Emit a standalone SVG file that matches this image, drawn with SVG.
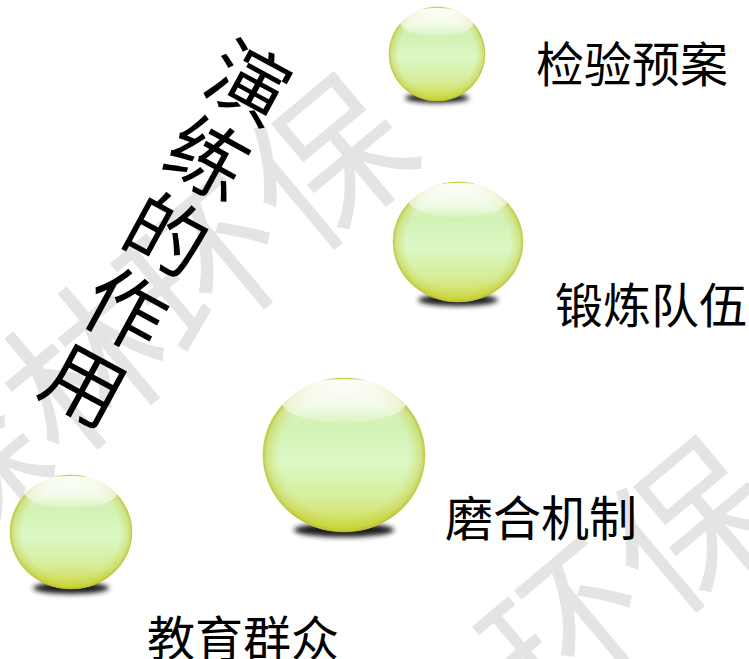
<svg xmlns="http://www.w3.org/2000/svg" width="749" height="659" viewBox="0 0 749 659">
<style>
  .wm { font-family: "Noto Sans CJK SC", "Noto Sans", sans-serif; font-size: 158px; fill: #e4e4e4; text-anchor: middle; dominant-baseline: central; }
  .title { font-family: "Noto Sans CJK SC", "Noto Sans", sans-serif; font-size: 80px; fill: #000; text-anchor: middle; dominant-baseline: central; }
  .label { font-family: "Noto Sans CJK SC", "Noto Sans", sans-serif; font-size: 48px; fill: #000; dominant-baseline: central; }
  .shadow { fill: #1e1e1e; filter: url(#blur); }
  .body { fill: url(#bodyGrad); }
  .rim { fill: url(#rimGrad); stroke: #c2c832; stroke-width: 1; stroke-opacity: 0.5; }
  .hl { fill: url(#hlGrad); }
</style>
<defs>
  <filter id="blur" x="-30%" y="-100%" width="160%" height="300%"><feGaussianBlur stdDeviation="2.5"/></filter>
  <linearGradient id="bodyGrad" x1="0" y1="0" x2="0" y2="1">
    <stop offset="0" stop-color="#eefae0"/>
    <stop offset="0.3" stop-color="#d2f2b4"/>
    <stop offset="0.55" stop-color="#dcf8c4"/>
    <stop offset="0.8" stop-color="#d6ec96"/>
    <stop offset="1" stop-color="#cedb3c"/>
  </linearGradient>
  <radialGradient id="rimGrad" cx="0.5" cy="0.5" r="0.5">
    <stop offset="0.8" stop-color="#c8d040" stop-opacity="0"/>
    <stop offset="0.95" stop-color="#c0c830" stop-opacity="0.4"/>
    <stop offset="1" stop-color="#b4b828" stop-opacity="0.75"/>
  </radialGradient>
  <linearGradient id="hlGrad" x1="0" y1="0" x2="0" y2="1">
    <stop offset="0" stop-color="#ffffff" stop-opacity="0.95"/>
    <stop offset="0.6" stop-color="#ffffff" stop-opacity="0.6"/>
    <stop offset="1" stop-color="#ffffff" stop-opacity="0.15"/>
  </linearGradient>
</defs>

<g id="watermark">
  <text class="wm" transform="translate(322,155) rotate(-40)">保</text>
  <text class="wm" transform="translate(200,258) rotate(-40)">环</text>
  <text class="wm" transform="translate(78,361) rotate(-40)">林</text>
  <text class="wm" transform="translate(-44,464) rotate(-40)">森</text>
  <text class="wm" transform="translate(684,518) rotate(-40)">保</text>
  <text class="wm" transform="translate(562,621) rotate(-40)">环</text>
</g>

<g id="title">
  <text class="title" transform="translate(251,78) rotate(28.5)">演</text>
  <text class="title" transform="translate(210,154) rotate(28.5)">练</text>
  <text class="title" transform="translate(169,230) rotate(28.5)">的</text>
  <text class="title" transform="translate(128,305) rotate(28.5)">作</text>
  <text class="title" transform="translate(87,380) rotate(28.5)">用</text>
</g>

<g id="node-jianyan">
  <ellipse class="shadow" cx="437" cy="98" rx="32" ry="5"/>
  <ellipse class="body" cx="437" cy="54" rx="48" ry="47"/>
  <ellipse class="rim" cx="437" cy="54" rx="48" ry="47"/>
  <ellipse class="hl" cx="437" cy="22" rx="37" ry="14"/>
  <text class="label" x="536" y="61">检验预案</text>
</g>

<g id="node-duanlian">
  <ellipse class="shadow" cx="458" cy="300" rx="40" ry="6"/>
  <ellipse class="body" cx="458" cy="242" rx="65" ry="60"/>
  <ellipse class="rim" cx="458" cy="242" rx="65" ry="60"/>
  <ellipse class="hl" cx="458" cy="200" rx="50" ry="17"/>
  <text class="label" x="555" y="302">锻炼队伍</text>
</g>

<g id="node-mohe">
  <ellipse class="shadow" cx="344" cy="530" rx="50" ry="7"/>
  <ellipse class="body" cx="344" cy="455" rx="81" ry="77"/>
  <ellipse class="rim" cx="344" cy="455" rx="81" ry="77"/>
  <ellipse class="hl" cx="344" cy="401" rx="63" ry="22"/>
  <text class="label" x="445" y="515">磨合机制</text>
</g>

<g id="node-jiaoyu">
  <ellipse class="shadow" cx="71" cy="588" rx="38" ry="6"/>
  <ellipse class="body" cx="71" cy="532" rx="61" ry="57"/>
  <ellipse class="rim" cx="71" cy="532" rx="61" ry="57"/>
  <ellipse class="hl" cx="71" cy="492" rx="47" ry="16"/>
  <text class="label" x="147" y="635">教育群众</text>
</g>

<g id="connectors"></g>
</svg>
